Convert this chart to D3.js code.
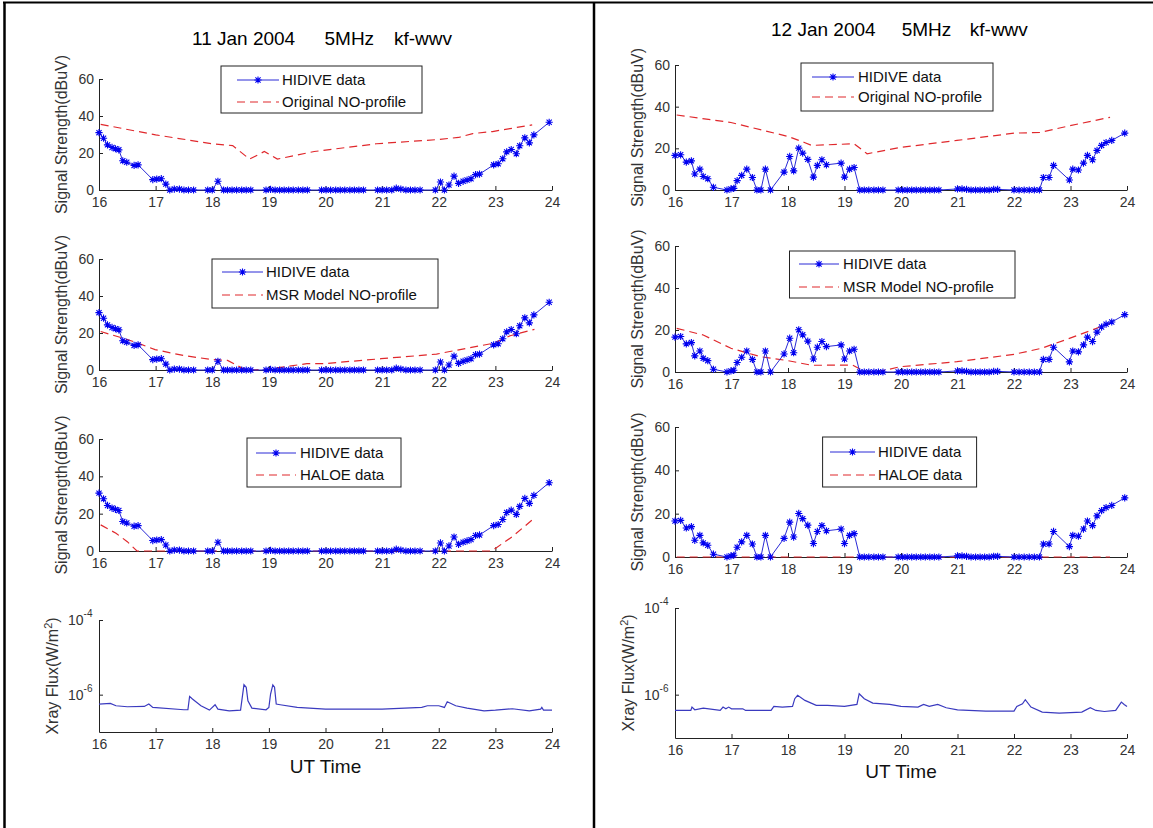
<!DOCTYPE html>
<html><head><meta charset="utf-8">
<script src="https://cdn.jsdelivr.net/npm/d3@7"></script>
<style>
body{margin:0;background:#fff}
svg{display:block}
text{font-family:"Liberation Sans",Arial,Helvetica,sans-serif}
</style>
</head><body>
<svg id="c" width="1153" height="828"></svg>
<script>
// ---------------- DATA ----------------
const xTicks = [16,17,18,19,20,21,22,23,24];
const yTicks = [0,20,40,60];
const xrayTicks = [1e-4,1e-6];
const xrayTickExp = ["-4","-6"];
const titles11 = ["11 Jan 2004","5MHz","kf-wwv"];
const titles12 = ["12 Jan 2004","5MHz","kf-wwv"];
const legendHidive = "HIDIVE data";
const legendModels = ["Original NO-profile","MSR Model NO-profile","HALOE data"];

// HIDIVE measured signal, 11 Jan 2004
const hidiveHours11 = [16.00,16.08,16.15,16.23,16.29,16.35,16.42,16.49,16.62,16.69,
16.95,17.02,17.10,17.18,17.25,17.33,17.42,17.50,17.58,17.67,
17.92,18.00,18.10,18.20,18.27,18.35,18.43,18.52,18.60,18.68,
18.95,19.03,19.11,19.19,19.27,19.35,19.43,19.52,19.60,19.68,
19.93,20.01,20.09,20.18,20.26,20.34,20.43,20.51,20.59,20.67,
20.92,21.00,21.08,21.17,21.25,21.33,21.42,21.50,21.58,21.67,
21.94,22.03,22.10,22.18,22.27,22.35,22.43,22.50,22.57,22.65,22.72,
22.97,23.05,23.13,23.20,23.28,23.37,23.43,23.52,23.60,23.68,23.95];
const hidiveValues11 = [31,28,24.4,23,22.3,21.7,15.8,15,13.3,13.6,
5.6,5.9,6.1,3.2,0,0.5,0.5,0,0,0,
0,0,4.7,0,0,0,0,0,0,0,
0,0.3,0,0,0,0,0,0,0,0,
0,0,0,0,0,0,0,0,0,0,
0,0,0,0,1,0.5,0,0,0,0,
0,4.3,0,2.7,7.5,3.6,4.7,5.4,6.1,8.3,8.6,
13.6,14.2,16.9,20.6,21.9,19.6,23.9,28.2,25.5,29.8,36.6];

// HIDIVE measured signal, 12 Jan 2004
const hidiveHours12 = [16.00,16.10,16.20,16.29,16.35,16.44,16.50,16.58,16.68,
16.92,16.99,17.04,17.10,17.18,17.27,17.37,17.45,17.52,17.60,17.69,
17.93,18.03,18.10,18.19,18.26,18.35,18.45,18.52,18.60,18.68,
18.94,19.00,19.09,19.17,19.27,19.35,19.43,19.52,19.60,19.68,
19.95,20.03,20.11,20.19,20.27,20.35,20.43,20.51,20.59,20.67,
21.00,21.08,21.16,21.24,21.32,21.40,21.48,21.56,21.64,21.71,
22.00,22.09,22.18,22.27,22.36,22.45,
22.52,22.62,22.70,22.98,23.04,23.14,23.23,23.30,23.39,23.47,23.55,23.63,23.73,23.96];
const hidiveValues12 = [16.6,16.9,13.4,14,7.7,10,6.5,5.4,1.3,
0,0.5,0.8,4.5,7,10,6,0,0,10,0,
8.6,16.1,9.2,20.1,17.7,14.7,6.2,11.8,14.5,12.1,
12.9,6.2,10,10.8,0,0,0,0,0,0,
0,0,0,0,0,0,0,0,0,0,
0.5,0.5,0.3,0,0,0,0,0,0.3,0.3,
0,0,0,0,0,0,
6,6,11.8,4.8,10,9.6,12.9,16.6,14.5,19,21.4,22.8,23.8,27.3];

// Model curves, 11 Jan
const origHours11 = [16.03,17.0,18.0,18.36,18.66,18.92,19.15,19.8,20.9,21.95,22.35,22.6,22.95,23.65];
const origValues11 = [35.5,29.8,25.0,24.0,16.7,20.8,16.7,20.8,25.0,27.2,28.4,30.5,31.6,35.2];
const msrHours11 = [16.03,16.5,16.69,16.99,17.5,18.0,18.27,18.56,18.69,18.98,19.67,19.96,20.98,21.96,22.97,23.26,23.69];
const msrValues11 = [20.8,16.5,14.5,11,7.8,5.6,5.2,0.5,0,0.5,3.4,3.4,6.1,8.6,14.5,18.5,22];
const haloeHours11 = [16.03,16.3,16.5,16.67,22.9,23.0,23.3,23.7];
const haloeValues11 = [14,9.5,5,0,0,1.4,7.7,17.9];

// Model curves, 12 Jan
const origHours12 = [16.03,16.99,18.0,18.29,18.42,19.17,19.40,19.98,20.99,22.0,22.46,22.98,23.70];
const origValues12 = [36.0,32.4,25.7,22.8,21.4,22.2,17.4,20.4,23.8,27.3,27.6,30.8,34.9];
const msrHours12 = [16.03,16.5,16.99,17.51,18.0,18.42,19.14,19.37,19.66,19.98,20.99,22.0,22.49,22.98,23.7];
const msrValues12 = [20.8,17.6,11.3,7.3,5.4,3.2,3.3,0,0.5,2.5,4.9,8.4,11.3,16,23.2];
const haloeHours12 = [16.03,23.7];
const haloeValues12 = [0,0];

// GOES X-ray flux (W/m^2)
const xrayHours11 = [16.0,16.2,16.3,16.5,16.8,16.88,16.95,17.5,17.57,17.6,17.65,17.8,17.95,18.05,18.1,18.3,18.5,18.53,18.56,18.6,18.63,18.7,18.95,19.0,19.03,19.07,19.1,19.13,19.2,19.5,20.0,21.0,21.7,21.8,22.0,22.1,22.15,22.3,22.5,22.8,23.0,23.3,23.6,23.8,23.82,23.85,24.0];
const xrayFlux11 = [5.6e-7,5.83e-7,5.05e-7,4.74e-7,4.84e-7,5.6e-7,4.55e-7,3.94e-7,3.94e-7,9.0e-7,7.64e-7,5.05e-7,3.85e-7,5.37e-7,4.1e-7,3.7e-7,3.85e-7,8.47e-7,1.86e-6,1.58e-6,6.89e-7,4.37e-7,3.94e-7,4.55e-7,1.04e-6,1.82e-6,1.58e-6,5.6e-7,5.37e-7,4.55e-7,4.1e-7,4.1e-7,4.55e-7,5.05e-7,5.05e-7,4.55e-7,6.47e-7,5.05e-7,4.37e-7,3.7e-7,3.85e-7,4.19e-7,3.7e-7,4.1e-7,4.55e-7,3.85e-7,3.85e-7];
const xrayHours12 = [16.0,16.28,16.3,16.35,16.5,16.8,16.85,16.9,16.95,17.0,17.2,17.25,17.7,17.75,17.9,18.08,18.12,18.17,18.3,18.5,18.7,19.0,19.22,19.26,19.35,19.5,19.8,20.0,20.3,20.4,20.5,20.65,20.8,21.0,21.5,22.0,22.05,22.15,22.2,22.3,22.5,22.8,23.2,23.35,23.45,23.6,23.8,23.9,23.95,24.0];
const xrayFlux12 = [4.33e-7,4.33e-7,5.17e-7,4.48e-7,4.9e-7,4.33e-7,5.17e-7,4.72e-7,5.17e-7,4.72e-7,4.72e-7,4.33e-7,4.33e-7,5.36e-7,5.17e-7,5.36e-7,8.07e-7,9.64e-7,7.38e-7,5.65e-7,5.65e-7,5.36e-7,5.96e-7,1.05e-6,8.07e-7,6.4e-7,5.96e-7,5.36e-7,5.17e-7,5.96e-7,5.36e-7,5.96e-7,4.99e-7,4.48e-7,4.17e-7,4.17e-7,5.36e-7,6.18e-7,7.66e-7,5.17e-7,3.95e-7,3.75e-7,3.95e-7,4.99e-7,4.33e-7,4.09e-7,4.33e-7,6.75e-7,5.96e-7,5.36e-7];

// ---------------- LAYOUT / STYLE ----------------
const BLUE_LINE = "#2a2ad6", BLUE_STAR = "#0000f0", RED = "#e0282c", XRAY = "#3a3abf";
const AXIS = "#222", LABEL = "#333";
const svg = d3.select("#c");

// table frame
svg.append("line").attr("x1",3).attr("x2",1153).attr("y1",2.5).attr("y2",2.5).attr("stroke","#000").attr("stroke-width",2);
svg.append("line").attr("x1",4.5).attr("x2",4.5).attr("y1",2).attr("y2",828).attr("stroke","#000").attr("stroke-width",2.5);
svg.append("line").attr("x1",594).attr("x2",594).attr("y1",2).attr("y2",828).attr("stroke","#000").attr("stroke-width",2.5);

function starPath(x,y,r){
  const d=r*0.72;
  return `M${x-r},${y}L${x+r},${y}M${x},${y-r}L${x},${y+r}M${x-d},${y-d}L${x+d},${y+d}M${x-d},${y+d}L${x+d},${y-d}`;
}

function drawAxes(g, x, y, x0, x1, y0, isLog){
  const ax = g.append("g").attr("transform",`translate(0,${y0})`)
    .call(d3.axisBottom(x).tickValues(xTicks).tickFormat(d3.format("d")).tickSizeInner(-4).tickSizeOuter(0).tickPadding(7));
  ax.select(".domain").attr("stroke",AXIS);
  ax.selectAll(".tick line").attr("stroke",AXIS);
  ax.selectAll("text").attr("fill",LABEL).style("font-size","14px").style("font-family",'"Liberation Sans",Arial,sans-serif');
  const ay = g.append("g").attr("transform",`translate(${x0},0)`);
  if(!isLog){
    ay.call(d3.axisLeft(y).tickValues(yTicks).tickFormat(d3.format("d")).tickSizeInner(-4).tickSizeOuter(0).tickPadding(5));
    ay.selectAll("text").attr("fill",LABEL).style("font-size","14px").style("font-family",'"Liberation Sans",Arial,sans-serif');
  } else {
    ay.call(d3.axisLeft(y).tickValues(xrayTicks).tickFormat("").tickSizeInner(-4).tickSizeOuter(0));
    xrayTicks.forEach((v,i)=>{
      const t = ay.append("text").attr("x",-31).attr("y",y(v)+5).attr("text-anchor","start")
        .attr("fill",LABEL).style("font-size","14px").style("font-family",'"Liberation Sans",Arial,sans-serif');
      t.append("tspan").text("10");
      t.append("tspan").attr("dy",-8).style("font-size","10px").text(xrayTickExp[i]);
    });
  }
  ay.select(".domain").attr("stroke",AXIS);
  ay.selectAll(".tick line").attr("stroke",AXIS);
}

function yLabel(g, cx, cy, isLog){
  const t = g.append("text").attr("transform",`translate(${cx},${cy}) rotate(-90)`)
    .attr("text-anchor","middle").attr("dy","0.35em").attr("fill",LABEL).style("font-size","16px");
  if(!isLog){ t.text("Signal Strength(dBuV)"); }
  else {
    t.append("tspan").text("Xray Flux(W/m");
    t.append("tspan").attr("dy",-6).style("font-size","11px").text("2");
    t.append("tspan").attr("dy",6).text(")");
  }
}

function signalPanel(p, hidH, hidV, modH, modV, legendText){
  const g = svg.append("g");
  const x = d3.scaleLinear().domain([16,24]).range([p.x0,p.x1]);
  const y = d3.scaleLinear().domain([0,60]).range([p.y0,p.yTop]);
  drawAxes(g,x,y,p.x0,p.x1,p.y0,false);
  yLabel(g,p.labelX,(p.y0+p.yTop)/2,false);
  const line = d3.line().x(d=>x(d[0])).y(d=>y(d[1]));
  const modPts = modH.map((h,i)=>[h,modV[i]]);
  g.append("path").attr("d",line(modPts)).attr("fill","none").attr("stroke",RED).attr("stroke-width",1.2).attr("stroke-dasharray","8,5");
  const hidPts = hidH.map((h,i)=>[h,hidV[i]]);
  g.append("path").attr("d",line(hidPts)).attr("fill","none").attr("stroke",BLUE_LINE).attr("stroke-width",1);
  g.append("g").selectAll("path").data(hidPts).join("path")
    .attr("d",d=>starPath(x(d[0]),y(d[1]),3.6)).attr("stroke",BLUE_STAR).attr("stroke-width",1.1).attr("fill","none");
  // legend
  const L = p.legend;
  const lg = g.append("g");
  lg.append("rect").attr("x",L.x).attr("y",L.y).attr("width",L.w).attr("height",L.h).attr("fill","#fff").attr("stroke",AXIS).attr("stroke-width",1);
  const r1 = L.y+L.r1, r2 = L.y+L.r2;
  lg.append("line").attr("x1",L.s0).attr("x2",L.s1).attr("y1",r1).attr("y2",r1).attr("stroke",BLUE_LINE).attr("stroke-width",1);
  lg.append("path").attr("d",starPath((L.s0+L.s1)/2,r1,3.6)).attr("stroke",BLUE_STAR).attr("stroke-width",1.1);
  lg.append("line").attr("x1",L.s0).attr("x2",L.s1).attr("y1",r2).attr("y2",r2).attr("stroke",RED).attr("stroke-width",1.2).attr("stroke-dasharray","8,5");
  lg.append("text").attr("x",L.t).attr("y",r1+5).attr("fill","#111").style("font-size","15px").text(legendHidive);
  lg.append("text").attr("x",L.t).attr("y",r2+5).attr("fill","#111").style("font-size","15px").text(legendText);
}

function xrayPanel(p, hrs, flux){
  const g = svg.append("g");
  const x = d3.scaleLinear().domain([16,24]).range([p.x0,p.x1]);
  const y = d3.scaleLog().domain([1e-7,1e-4]).range([p.y0,p.yTop]);
  drawAxes(g,x,y,p.x0,p.x1,p.y0,true);
  yLabel(g,p.labelX,(p.y0+p.yTop)/2,true);
  const line = d3.line().x(d=>x(d[0])).y(d=>y(d[1]));
  g.append("path").attr("d",line(hrs.map((h,i)=>[h,flux[i]]))).attr("fill","none").attr("stroke",XRAY).attr("stroke-width",1.2);
  g.append("text").attr("x",(p.x0+p.x1)/2).attr("y",p.utY).attr("text-anchor","middle").attr("fill","#111").style("font-size","19px").text("UT Time");
}

function titles(parts, xs, yb){
  parts.forEach((s,i)=>svg.append("text").attr("x",xs[i]).attr("y",yb).attr("fill","#000").style("font-size","19px").text(s));
}

// ---- Left column: 11 Jan ----
titles(titles11,[192,324.5,394],45);
signalPanel({x0:99,x1:552,yTop:79,y0:190,labelX:61,
  legend:{x:221,y:66,w:201,h:47,s0:237,s1:279,t:282,r1:14,r2:36}},
  hidiveHours11,hidiveValues11,origHours11,origValues11,legendModels[0]);
signalPanel({x0:99,x1:552,yTop:259,y0:370,labelX:61,
  legend:{x:212,y:259,w:226,h:49,s0:222,s1:263,t:266,r1:13,r2:36}},
  hidiveHours11,hidiveValues11,msrHours11,msrValues11,legendModels[1]);
signalPanel({x0:99,x1:552,yTop:439,y0:551,labelX:61,
  legend:{x:247,y:438,w:154,h:49,s0:256,s1:296,t:300,r1:15,r2:37}},
  hidiveHours11,hidiveValues11,haloeHours11,haloeValues11,legendModels[2]);
xrayPanel({x0:99,x1:552,yTop:620,y0:732,labelX:52,utY:773},xrayHours11,xrayFlux11);

// ---- Right column: 12 Jan ----
titles(titles12,[771,901.7,969.8],36);
signalPanel({x0:675,x1:1127,yTop:65,y0:190,labelX:637,
  legend:{x:801,y:63,w:192,h:48,s0:812,s1:854,t:858,r1:14,r2:34}},
  hidiveHours12,hidiveValues12,origHours12,origValues12,legendModels[0]);
signalPanel({x0:675,x1:1127,yTop:246,y0:372,labelX:637,
  legend:{x:789.5,y:251,w:225.5,h:47,s0:799,s1:839,t:843,r1:13,r2:36}},
  hidiveHours12,hidiveValues12,msrHours12,msrValues12,legendModels[1]);
signalPanel({x0:675,x1:1127,yTop:427,y0:557,labelX:637,
  legend:{x:822.6,y:437,w:154,h:50,s0:830,s1:875,t:878,r1:15,r2:38}},
  hidiveHours12,hidiveValues12,haloeHours12,haloeValues12,legendModels[2]);
xrayPanel({x0:675,x1:1127,yTop:608,y0:738,labelX:628,utY:778},xrayHours12,xrayFlux12);
</script>
</body></html>
